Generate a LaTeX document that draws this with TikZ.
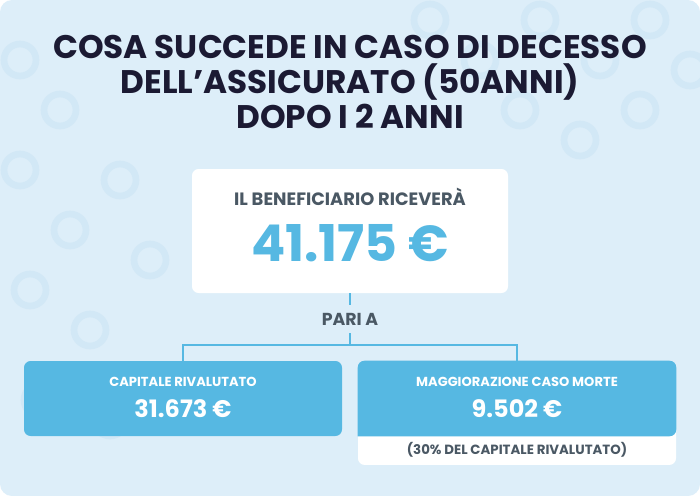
\documentclass[tikz,border=0pt]{standalone}
\usepackage{fontspec}
\setmainfont{Poppins}
\usepackage{tikz}
\definecolor{bg}{HTML}{DDEEF9}
\definecolor{bgring}{HTML}{D2E8F6}
\definecolor{sky}{HTML}{56B8E2}
\definecolor{navy}{HTML}{1B1A33}
\definecolor{slate}{HTML}{4A5864}

\tikzset{
  card/.style={rounded corners=5pt, inner sep=0pt},
  ring/.style={draw=bgring, line width=5pt},
  wire/.style={draw=sky, line width=2.2pt},
  small/.style={font=\fontsize{9.8}{11}\selectfont\bfseries}
}

\begin{document}
\begin{tikzpicture}[x=0.75pt, y=-0.75pt]
\fill[white] (0,0) rectangle (700,496);
\fill[bg, rounded corners=9pt] (0,0) rectangle (700,496);
\useasboundingbox (0,0) rectangle (700,496);
% background rings
\foreach \x/\y in {20/60, 60/110, 20/170, 70/230, 120/180, 30/290, 90/330, 40/400, 150/260, 110/420, 430/20, 480/60, 540/20, 600/60, 650/20, 520/110, 580/140, 640/110, 690/70}
  \draw[ring] (\x,\y) circle (12pt);

% title
\node[navy, align=center, font=\fontsize{24.5}{26}\selectfont\bfseries] (title) at (350,82)
  {COSA SUCCEDE IN CASO DI DECESSO\\DELL’ASSICURATO (50ANNI)\\DOPO I 2 ANNI};

% main box
\node[card, fill=white, minimum width=237pt, minimum height=93pt] (top) at (350,231) {};
\node[slate, font=\fontsize{13.4}{15}\selectfont\bfseries] (benef) at (350,197) {IL BENEFICIARIO RICEVERÀ};
\node[sky, font=\fontsize{38}{44}\selectfont\bfseries] (total) at (350,243) {41.175 €};

\node[slate, font=\fontsize{13}{15}\selectfont\bfseries] (pari) at (350,319) {PARI A};

% lower boxes
\node[card, fill=sky, minimum width=238.5pt, minimum height=56.25pt] (cap) at (183,398.5) {};
\node[card, fill=white, minimum width=238.5pt, minimum height=40pt] (note) at (517,438.3) {};
\node[minimum width=238.5pt, minimum height=56.25pt, inner sep=0pt] (mag) at (517,398.5) {};
\fill[sky] (mag.south west) [rounded corners=5pt] |- (mag.north) -| (mag.south east) [sharp corners] -- cycle;

\node[white, small] (caplab) at (183,382) {CAPITALE RIVALUTATO};
\node[white, font=\fontsize{18}{21}\selectfont\bfseries] (capval) at (183,409) {31.673 €};
\node[white, small] (maglab) at (517,382) {MAGGIORAZIONE CASO MORTE};
\node[white, font=\fontsize{18}{21}\selectfont\bfseries] (magval) at (517,409) {9.502 €};
\node[slate, font=\fontsize{10}{11}\selectfont\bfseries] (notelab) at (517,449.5) {(30\% DEL CAPITALE RIVALUTATO)};

% connectors
\draw[wire] (top.south) -- (350,305);
\draw[wire] (350,333) -- (350,345) -| (cap.north);
\draw[wire] (350,345) -| (mag.north);
\end{tikzpicture}
\end{document}
